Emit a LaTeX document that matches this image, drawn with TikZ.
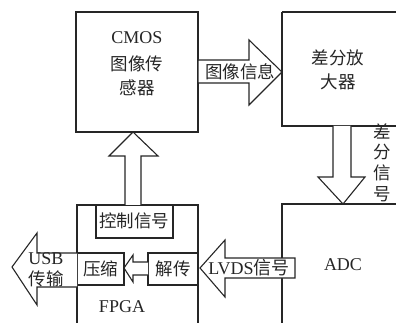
\documentclass[tikz,border=0pt]{standalone}
\usepackage{fontspec}
\setmainfont{Liberation Serif}
\newfontfamily\cjk{Noto Sans CJK SC}
\begin{document}
\begin{tikzpicture}[x=1pt,y=-1pt,
  line/.style={draw=black!85,line width=1.1pt,line join=miter},
  blk/.style={line,fill=white},
  lbl/.style={inner sep=0pt,font=\fontsize{18}{20}\selectfont,text=black!85},
  cj/.style={lbl,font=\fontsize{17.5}{20}\cjk}]
\useasboundingbox (0,0) rectangle (396,323);
% boxes
\draw[blk] (76,12) rectangle (198,132);
\draw[blk] (282,12) -- (400,12) (282,12) -- (282,126) -- (400,126);
\draw[blk] (400,204) -- (282,204) -- (282,330);
\draw[line] (198,330) -- (198,205) -- (77,205) -- (77,330);
% CMOS text
\node[lbl] (cmos) at (137,38) {CMOS};
\node[cj] (cmos2) at (137,64) {图像传};
\node[cj] (cmos3) at (137,88) {感器};
% diff amp text
\node[cj] (amp1) at (338,58) {差分放};
\node[cj] (amp2) at (338,82) {大器};
% right arrow
\draw[blk] (198,60) -- (249,60) -- (249,40) -- (282,72) -- (249,105) -- (249,83) -- (198,83) -- cycle;
\node[cj] (img) at (240,72) {图像信息};
% down arrow
\draw[blk] (333,126) -- (333,177) -- (318,177) -- (343,204) -- (365,177) -- (351,177) -- (351,126);
\node[cj] (v1) at (382,131) {差};
\node[cj] (v2) at (382,152) {分};
\node[cj] (v3) at (382,173) {信};
\node[cj] (v4) at (382,194) {号};
% ADC
\node[lbl] (adc) at (343,265) {ADC};
% LVDS arrow
\draw[blk] (295,258) -- (295,278) -- (225,278) -- (225,297) -- (200,268) -- (225,240) -- (225,258) -- cycle;
\node[lbl] (lvds) at (249,268) {LVDS{\cjk 信号}};
% FPGA internals
\node[lbl] (fpga) at (122,307) {FPGA};
\draw[blk] (96,205) rectangle (173,238);
\node[cj] (ctl) at (134,221) {控制信号};
\draw[blk] (125,205) -- (125,156) -- (109,156) -- (133,132) -- (158,156) -- (141,156) -- (141,205);
\draw[blk] (77,253) rectangle (124,285);
\node[cj] (cmp) at (100.5,269) {压缩};
\draw[blk] (148,253) rectangle (198,285);
\node[cj] (dec) at (173,269) {解传};
\draw[blk] (148,262) -- (133,262) -- (133,255) -- (124,268) -- (133,282) -- (133,275) -- (148,275);
% USB arrow
\draw[blk] (77,253) -- (37,253) -- (37,233) -- (12,267) -- (37,305) -- (37,287) -- (77,287);
\node[lbl] (usb) at (46,259) {USB};
\node[cj] (usb2) at (46,279) {传输};
\end{tikzpicture}
\end{document}
